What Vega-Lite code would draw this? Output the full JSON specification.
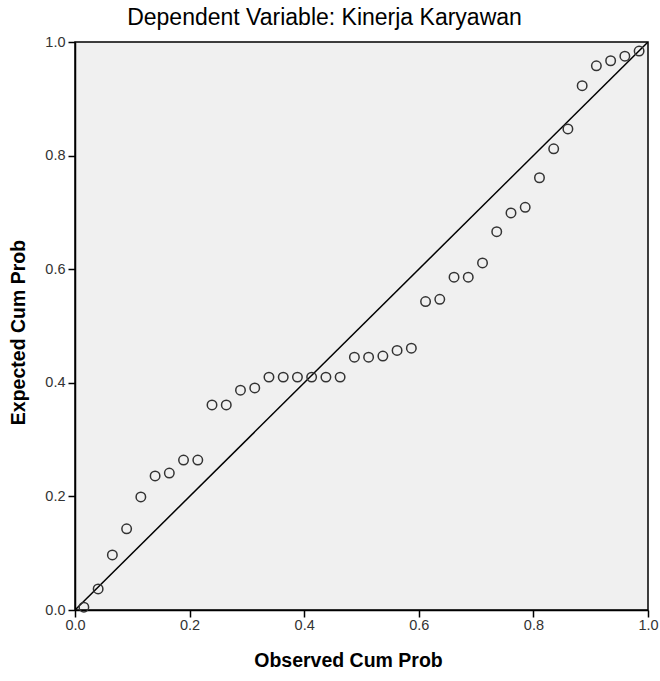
{
  "$schema": "https://vega.github.io/schema/vega-lite/v6.json",
  "autosize": "none",
  "width": 573,
  "height": 568,
  "padding": {"left": 75, "top": 42, "right": 12, "bottom": 71},
  "background": "white",
  "title": {
    "text": "Dependent Variable: Kinerja Karyawan",
    "font": "Liberation Sans",
    "fontSize": 23,
    "fontWeight": "normal",
    "color": "#000000",
    "anchor": "middle",
    "dx": -37,
    "offset": 4
  },
  "config": {
    "view": {"fill": "#f0f0f0", "stroke": "#000000", "strokeWidth": 1.5},
    "axis": {
      "labelFont": "Liberation Sans",
      "labelFontSize": 14.5,
      "labelColor": "#333333",
      "titleFont": "Liberation Sans",
      "titleFontSize": 19.5,
      "titleFontWeight": "bold",
      "titleColor": "#000000",
      "domainColor": "#000000",
      "domainWidth": 1.5,
      "tickColor": "#000000",
      "tickSize": 7,
      "tickWidth": 1.5,
      "grid": false
    }
  },
  "datasets": {
    "points": [
      {"obs": 0.0155, "exp": 0.005},
      {"obs": 0.0404, "exp": 0.037},
      {"obs": 0.0652, "exp": 0.097},
      {"obs": 0.0901, "exp": 0.143},
      {"obs": 0.1149, "exp": 0.199},
      {"obs": 0.1398, "exp": 0.236},
      {"obs": 0.1646, "exp": 0.241},
      {"obs": 0.1894, "exp": 0.264},
      {"obs": 0.2143, "exp": 0.264},
      {"obs": 0.2391, "exp": 0.361},
      {"obs": 0.2640, "exp": 0.361},
      {"obs": 0.2888, "exp": 0.387},
      {"obs": 0.3137, "exp": 0.391},
      {"obs": 0.3385, "exp": 0.41},
      {"obs": 0.3634, "exp": 0.41},
      {"obs": 0.3882, "exp": 0.41},
      {"obs": 0.4130, "exp": 0.41},
      {"obs": 0.4379, "exp": 0.41},
      {"obs": 0.4627, "exp": 0.41},
      {"obs": 0.4876, "exp": 0.445},
      {"obs": 0.5124, "exp": 0.445},
      {"obs": 0.5373, "exp": 0.447},
      {"obs": 0.5621, "exp": 0.457},
      {"obs": 0.5870, "exp": 0.461},
      {"obs": 0.6118, "exp": 0.543},
      {"obs": 0.6366, "exp": 0.547},
      {"obs": 0.6615, "exp": 0.586},
      {"obs": 0.6863, "exp": 0.586},
      {"obs": 0.7112, "exp": 0.611},
      {"obs": 0.7360, "exp": 0.666},
      {"obs": 0.7609, "exp": 0.699},
      {"obs": 0.7857, "exp": 0.709},
      {"obs": 0.8106, "exp": 0.761},
      {"obs": 0.8354, "exp": 0.812},
      {"obs": 0.8602, "exp": 0.847},
      {"obs": 0.8851, "exp": 0.923},
      {"obs": 0.9099, "exp": 0.958},
      {"obs": 0.9348, "exp": 0.967},
      {"obs": 0.9596, "exp": 0.975},
      {"obs": 0.9845, "exp": 0.984}
    ],
    "diag": [
      {"obs": 0, "exp": 0},
      {"obs": 1, "exp": 1}
    ]
  },
  "layer": [
    {
      "data": {"name": "diag"},
      "mark": {"type": "line", "color": "#000000", "strokeWidth": 1.5, "clip": true},
      "encoding": {
        "x": {"field": "obs", "type": "quantitative"},
        "y": {"field": "exp", "type": "quantitative"}
      }
    },
    {
      "data": {"name": "points"},
      "mark": {"type": "point", "shape": "circle", "filled": false, "size": 90, "stroke": "#333333", "strokeWidth": 1.5, "opacity": 1},
      "encoding": {
        "x": {
          "field": "obs", "type": "quantitative",
          "scale": {"domain": [0, 1], "nice": false, "zero": false},
          "axis": {"title": "Observed Cum Prob", "values": [0, 0.2, 0.4, 0.6, 0.8, 1.0], "format": ".1f", "labelPadding": 1, "titlePadding": 20, "titleX": 273, "labelFlush": false}
        },
        "y": {
          "field": "exp", "type": "quantitative",
          "scale": {"domain": [0, 1], "nice": false, "zero": false},
          "axis": {"title": "Expected Cum Prob", "values": [0, 0.2, 0.4, 0.6, 0.8, 1.0], "format": ".1f", "labelPadding": 3, "titlePadding": 16, "titleY": 290, "labelFlush": false}
        }
      }
    }
  ]
}
